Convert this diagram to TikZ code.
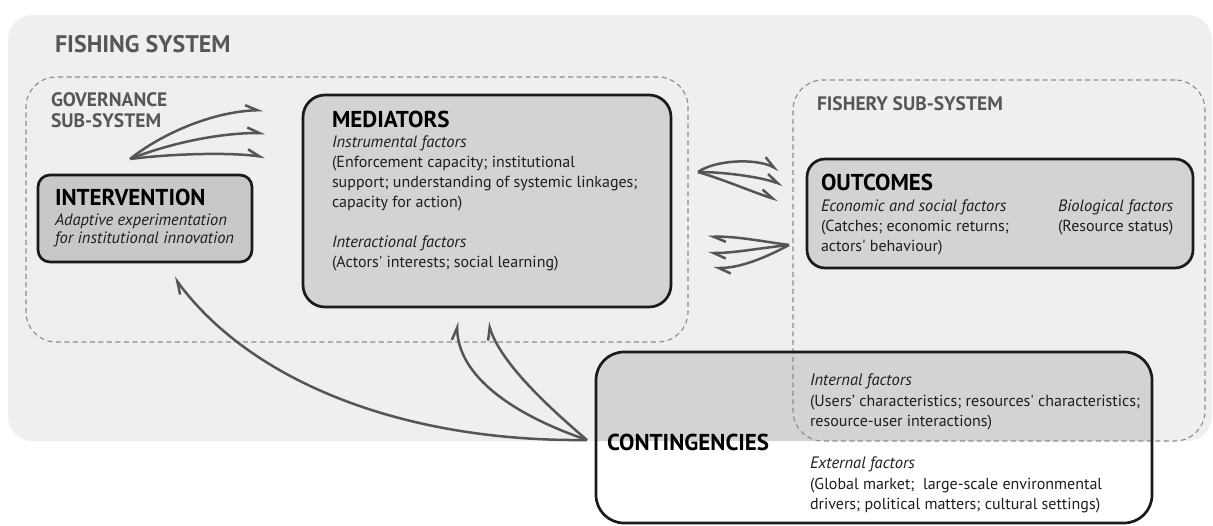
\documentclass[tikz,border=0pt]{standalone}
\usepackage{fontspec}
\setmainfont{PT Sans}
\usetikzlibrary{arrows.meta}
\definecolor{sysgray}{HTML}{EFEFEF}
\definecolor{boxgray}{HTML}{D2D3D5}
\definecolor{intgray}{HTML}{C8C8C9}
\definecolor{titlegray}{HTML}{575757}
\definecolor{arrowgray}{HTML}{555555}
\definecolor{dashgray}{HTML}{8C8C8C}
\definecolor{boxblack}{HTML}{1A1A1A}
\definecolor{textblack}{HTML}{1E1E1E}
\begin{document}
\begin{tikzpicture}[x=1pt,y=-1pt,
  region/.style={fill=sysgray, draw=none, rounded corners=25pt, inner sep=0pt, outer sep=0pt},
  subsys/.style={draw=dashgray, line width=1.1pt, dash pattern=on 5pt off 3.5pt, rounded corners=30pt, inner sep=0pt, outer sep=0pt},
  boxline/.style={draw=boxblack, line width=2.7pt},
  factorbox/.style={boxline, fill=boxgray, inner sep=0pt, outer sep=0pt},
  lbl/.style={anchor=base west, inner sep=0pt, outer sep=0pt},
  systitle/.style={lbl, text=titlegray, font=\fontsize{24}{26}\selectfont\bfseries},
  subtitle/.style={lbl, text=titlegray, font=\fontsize{19.5}{22}\selectfont\bfseries},
  boxtitle/.style={lbl, text=black, font=\fontsize{23}{26}\selectfont\bfseries},
  body/.style={lbl, text=textblack, font=\fontsize{16}{20}\selectfont},
  ital/.style={lbl, text=textblack, font=\fontsize{16.5}{20}\selectfont\itshape},
  flow/.style={draw=arrowgray, line width=2.5pt, -{Straight Barb[harpoon, length=12pt, width=11pt]}}
]
\useasboundingbox (0,0) rectangle (1213,525);
\fill[white] (0,0) rectangle (1213,525);

% fishing system region
\node[region, minimum width=1204pt, minimum height=426pt] (fishsys) at (610,228) {};

% contingencies box (white outside, gray inside fishing system)
\node[fill=white, inner sep=0pt, outer sep=0pt, rounded corners=28pt, minimum width=556pt, minimum height=171pt] (cont) at (874,437.5) {};
\begin{scope}
  \clip[rounded corners=25pt] (fishsys.south west) rectangle (fishsys.north east);
  \fill[boxgray, rounded corners=28pt] (cont.south west) rectangle (cont.north east);
\end{scope}

% sub-systems
\node[subsys, minimum width=662pt, minimum height=265pt] (gov) at (357,209.5) {};
\node[subsys, minimum width=412pt, minimum height=361pt] (fish) at (999,260.5) {};

\draw[boxline, rounded corners=28pt] (cont.south west) rectangle (cont.north east);

% boxes
\node[factorbox, fill=intgray, rounded corners=12pt, minimum width=214pt, minimum height=87pt] (interv) at (145,218.5) {};
\node[factorbox, rounded corners=22pt, minimum width=368pt, minimum height=212pt] (med) at (487,201) {};
\node[factorbox, rounded corners=18pt, minimum width=386pt, minimum height=109pt] (out) at (1000,213.5) {};

% titles
\node[systitle] (tfs) at (55,52) {FISHING SYSTEM};
\node[subtitle] (tgov1) at (51,106) {GOVERNANCE};
\node[subtitle] (tgov2) at (51,127) {SUB-SYSTEM};
\node[subtitle] (tfish) at (817,110) {FISHERY SUB-SYSTEM};

% intervention
\node[boxtitle] (tint) at (55,205) {INTERVENTION};
\node[ital] (tint1) at (55,225) {Adaptive experimentation};
\node[ital] (tint2) at (55,243) {for institutional innovation};

% mediators
\node[boxtitle] (tmed) at (332,127) {MEDIATORS};
\node[ital] (tmed1) at (332,147) {Instrumental factors};
\node[body] (tmed2) at (332,167) {(Enforcement capacity; institutional};
\node[body] (tmed3) at (332,187) {support; understanding of systemic linkages;};
\node[body] (tmed4) at (332,207) {capacity for action)};
\node[ital] (tmed5) at (332,247) {Interactional factors};
\node[body] (tmed6) at (332,267) {(Actors\textquotesingle{} interests; social learning)};

% outcomes
\node[boxtitle] (tout) at (821,190) {OUTCOMES};
\node[ital] (tout1) at (821,211) {Economic and social factors};
\node[body] (tout2) at (821,231) {(Catches; economic returns;};
\node[body] (tout3) at (821,251) {actors\textquotesingle{} behaviour)};
\node[ital] (tout4) at (1058,211) {Biological factors};
\node[body] (tout5) at (1058,231) {(Resource status)};

% contingencies
\node[boxtitle] (tcont) at (607,450) {CONTINGENCIES};
\node[ital] (tcont1) at (810,385) {Internal factors};
\node[body] (tcont2) at (810,406) {(Users’ characteristics; resources\textquotesingle{} characteristics;};
\node[body] (tcont3) at (810,426) {resource-user interactions)};
\node[ital] (tcont4) at (810,468) {External factors};
\node[body] (tcont5) at (810,489) {(Global market;\ \ large-scale environmental};
\node[body] (tcont6) at (810,509) {drivers; political matters; cultural settings)};

% connector end points
\coordinate (f1s) at (130,159);
\coordinate (f1a) at (263,110);
\coordinate (f1b) at (265,133);
\coordinate (f1c) at (265,157);
\coordinate (f2s) at (698,172);
\coordinate (f2a) at (779,170);
\coordinate (f2b) at (783,185);
\coordinate (f2c) at (778,200);
\coordinate (f3s) at (789,245);
\coordinate (f3a) at (708,237);
\coordinate (f3b) at (708,253);
\coordinate (f3c) at (713,268);
\coordinate (f4s) at (587,440);
\coordinate (f4a) at (174,277);
\coordinate (f4b) at (457,322);
\coordinate (f4c) at (488,322);

% intervention -> mediators
\draw[flow] (f1s) .. controls (160,135) and (210,112) .. (f1a);
\draw[flow] (f1s) .. controls (165,145) and (215,133) .. (f1b);
\draw[flow] (f1s) .. controls (170,154) and (225,152) .. (f1c);
% mediators -> outcomes
\draw[flow] (f2s) .. controls (715,160) and (755,158) .. (f2a);
\draw[flow] (f2s) .. controls (725,172) and (760,177) .. (f2b);
\draw[flow] (f2s) .. controls (725,180) and (755,193) .. (f2c);
% outcomes -> mediators
\draw[flow] (f3s) .. controls (760,241) and (735,236) .. (f3a);
\draw[flow] (f3s) .. controls (760,248) and (735,253) .. (f3b);
\draw[flow] (f3s) .. controls (765,258) and (740,268) .. (f3c);
% contingencies -> intervention, mediators
\draw[flow] (f4s) .. controls (400,442) and (250,380) .. (f4a);
\draw[flow] (f4s) .. controls (500,410) and (458,370) .. (f4b);
\draw[flow] (f4s) .. controls (540,400) and (500,360) .. (f4c);
\end{tikzpicture}
\end{document}
